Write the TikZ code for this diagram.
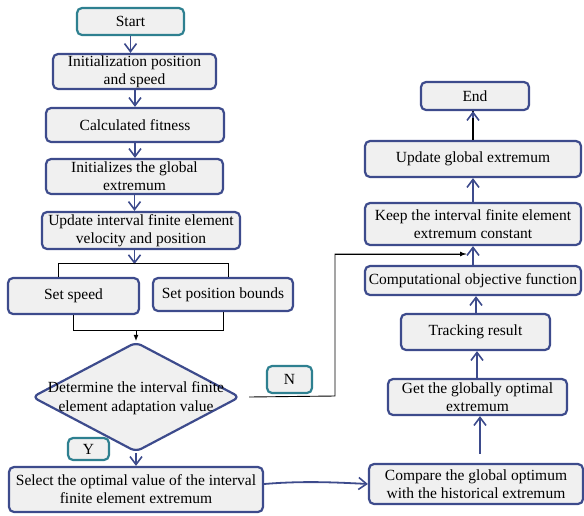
\documentclass[tikz,border=0pt]{standalone}
\usepackage{fontspec}
\setmainfont{Liberation Serif}
\usetikzlibrary{shapes.geometric,arrows.meta}
\definecolor{boxblue}{HTML}{3D4B8C}
\definecolor{tealc}{HTML}{2E8090}
\definecolor{boxfill}{HTML}{F0F0F0}
\tikzset{
  box/.style={draw=boxblue, line width=2.2pt, fill=boxfill, rounded corners=5pt,
    align=center, inner sep=0pt, font=\fontsize{15.5}{18}\selectfont},
  tbox/.style={box, draw=tealc},
  flow/.style={draw=boxblue, line width=1.8pt, -{Straight Barb[length=8pt,width=12pt,line width=1.6pt]}},
  thin/.style={draw=black, line width=0.9pt},
  thinarrow/.style={thin, -{Latex[length=6pt,width=5pt]}},
}
\begin{document}
\begin{tikzpicture}[x=1pt,y=-1pt]
\useasboundingbox (0,0) rectangle (584,515);
% left column
\node[tbox, minimum width=107, minimum height=27] (start) at (130.5,21.5) {Start};
\node[box, minimum width=163, minimum height=35] (init) at (134.5,71.5) {Initialization position\\and speed};
\node[box, minimum width=178, minimum height=34] (fit) at (135,125) {Calculated fitness};
\node[box, minimum width=177, minimum height=35] (glob) at (134.5,176.5) {Initializes the global\\extremum};
\node[box, minimum width=198, minimum height=37] (upd) at (141,230.5) {Update interval finite element\\velocity and position};
\node[box, minimum width=131, minimum height=36] (speed) at (73.5,296) {Set speed};
\node[box, minimum width=140, minimum height=33] (bounds) at (223,294.5) {Set position bounds};
\node[draw=boxblue, line width=2.2pt, fill=boxfill, shape=diamond, rounded corners=6pt,
  minimum width=208, minimum height=110, inner sep=0pt] (dec) at (136,397) {};
\node[align=center, font=\fontsize{15.5}{19}\selectfont, inner sep=0pt] (dect) at (136,398) {Determine the interval finite\\element adaptation value};
\node[tbox, minimum width=45, minimum height=27] (nlab) at (289.5,379.5) {N};
\node[tbox, minimum width=41, minimum height=22] (ylab) at (88.5,449) {Y};
\node[box, minimum width=254, minimum height=45] (sel) at (136,489.5) {Select the optimal value of the interval\\finite element extremum};
% right column
\node[box, minimum width=214, minimum height=40] (comp) at (476,484) {Compare the global optimum\\with the historical extremum};
\node[box, minimum width=179, minimum height=36] (get) at (477.5,397) {Get the globally optimal\\extremum};
\node[box, minimum width=149, minimum height=36] (track) at (475.5,332) {Tracking result};
\node[box, minimum width=216, minimum height=29] (obj) at (473,280.5) {Computational objective function};
\node[box, minimum width=216, minimum height=42] (keep) at (473,224) {Keep the interval finite element\\extremum constant};
\node[box, minimum width=216, minimum height=36] (ugl) at (473,159) {Update global extremum};
\node[box, minimum width=108, minimum height=28] (endn) at (475,96) {End};
% coordinates
\coordinate (b1) at (135,263);
\coordinate (bl) at (58,263);
\coordinate (br) at (228,263);
\coordinate (m1) at (136,330);
\coordinate (ml) at (73.5,330);
\coordinate (mr) at (223,330);
\coordinate (n1) at (335,396);
\coordinate (n2) at (335,254);
\coordinate (n3) at (466,254);
% connectors
\draw[flow] (start) -- (start|-init.north);
\draw[flow] (init.south-|fit) -- (fit);
\draw[flow] (fit) -- (fit|-glob.north);
\draw[flow] (glob.south) -- (glob.south|-upd.north);
\draw[flow] (upd.south-|glob) -- ++(0,14);
\draw[thin] (bl) -- (br);
\draw[thin] (bl) -- (bl|-speed.north);
\draw[thin] (br) -- (br|-bounds.north);
\draw[thin] (speed.south) -- (ml) -- (mr) -- (bounds.south);
\draw[thinarrow] (m1) -- (dec.north);
\draw[flow] (dec.south) -- (sel.north-|dec);
\draw[thin] (dec.east)++(8,0) -- (n1) -- (n2) -- (n3);
\draw[thinarrow] (n2) -- (n3);
\draw[flow] (sel.east|-0,484) .. controls (300,481) and (330,482) .. (comp.west);
\draw[flow, shorten <=9pt] (comp.north-|480,0) -- (get.south-|480,0);
\draw[flow] (get.north-|477,0) -- (track.south-|477,0);
\draw[flow] (track.north-|476,0) -- (obj.south-|476,0);
\draw[flow] (obj) -- (keep);
\draw[flow] (keep) -- (ugl);
\draw[thin, line width=1.5pt] (ugl.north) -- (ugl.north|-endn.south);
\draw[flow, shorten <=22pt] (ugl.north) -- (ugl.north|-endn.south);
\end{tikzpicture}
\end{document}
